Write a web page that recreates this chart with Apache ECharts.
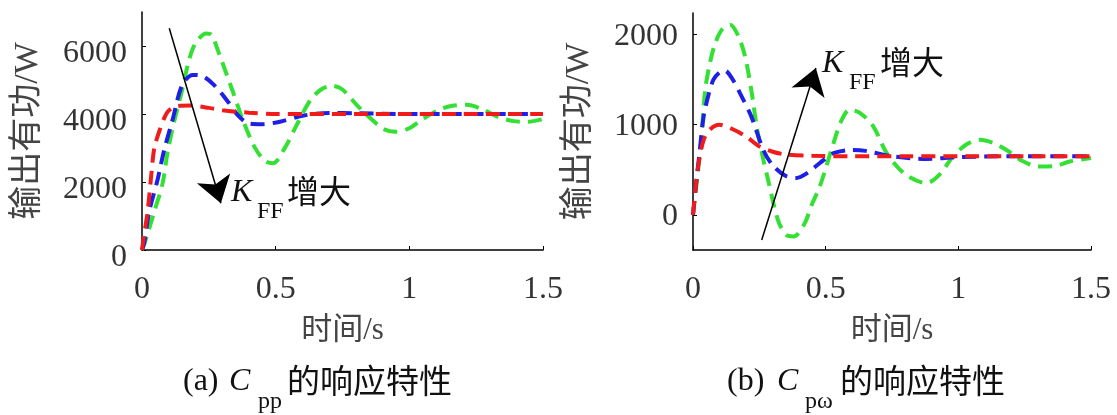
<!DOCTYPE html>
<html><head><meta charset="utf-8">
<script src="https://cdn.jsdelivr.net/npm/echarts@6/dist/echarts.min.js"></script>
<style>html,body{margin:0;padding:0;background:#fff}#c{width:1117px;height:415px}</style>
</head><body><div id="c"></div>
<script>
// ---- tick labels ----
const xTicks = [0, 0.5, 1, 1.5];
const aYTicks = [0, 2000, 4000, 6000];
const bYTicks = [0, 1000, 2000];

// ---- (a) C_pp response: time (s) and output active power (W) ----
const aRedT = [0,0.005,0.021,0.034,0.046,0.065,0.083,0.1,0.13,0.18,0.25,0.3,0.4,0.5,0.6,0.8,1.0,1.2,1.5];
const aRedP = [0,300,1130,2150,3000,3500,3880,4100,4230,4250,4180,4110,4040,4000,4000,4000,4000,4000,4000];
const aBlueT = [0,0.008,0.027,0.058,0.083,0.114,0.15,0.19,0.225,0.27,0.318,0.36,0.4,0.45,0.52,0.6,0.7,0.8,1.0,1.2,1.5];
const aBlueP = [0,200,1130,2060,2940,3820,4850,5150,5120,4850,4400,3950,3720,3700,3780,3950,4030,4020,4000,4000,4000];
const aGreenT = [0,0.01,0.046,0.077,0.096,0.12,0.15,0.176,0.2,0.24,0.26,0.288,0.338,0.375,0.42,0.46,0.49,0.537,0.575,0.63,0.67,0.71,0.75,0.81,0.9,0.95,1.0,1.05,1.11,1.16,1.215,1.27,1.33,1.39,1.445,1.5];
const aGreenP = [0,200,1130,1960,2890,3770,4700,5590,6080,6370,6330,5780,4700,3870,3040,2620,2550,3040,3620,4410,4720,4830,4720,4210,3580,3480,3580,3850,4120,4240,4270,4150,3920,3790,3770,3850];

// ---- (b) C_pω response ----
const bRedT = [0,0.008,0.02,0.04,0.065,0.1,0.15,0.2,0.25,0.3,0.35,0.45,0.6,0.8,1.0,1.5];
const bRedP = [0,250,550,830,950,1000,950,870,760,700,670,655,650,650,650,650];
const bBlueT = [0,0.01,0.025,0.04,0.06,0.077,0.1,0.12,0.15,0.177,0.22,0.265,0.3,0.35,0.39,0.43,0.48,0.53,0.6,0.65,0.75,0.88,1.0,1.2,1.5];
const bBlueP = [0,300,700,1090,1350,1500,1580,1600,1500,1350,1090,720,550,430,410,463,580,685,720,710,650,620,640,650,650];
const bGreenT = [0,0.01,0.03,0.046,0.065,0.084,0.11,0.14,0.17,0.196,0.22,0.24,0.26,0.28,0.32,0.35,0.38,0.42,0.45,0.478,0.53,0.56,0.59,0.63,0.68,0.73,0.8,0.88,0.93,0.98,1.03,1.08,1.13,1.18,1.24,1.3,1.36,1.42,1.5];
const bGreenP = [0,250,800,1390,1700,1907,2060,2110,1990,1760,1380,980,680,425,-55,-220,-240,-100,130,315,800,1050,1167,1130,980,685,450,352,450,648,780,833,800,722,600,537,540,592,630];

// ---- annotation arrows (data coords: start, tip) ----
const aArrow = [[0.102, 6520], [0.295, 1373]];
const bArrow = [[0.259, -278], [0.463, 1630]];

const RED = '#f01c1c', BLUE = '#1f1fe6', GREEN = '#33e033';
const serif = '"Liberation Serif","Times New Roman",serif';
const cjk = '"Liberation Serif","Noto Sans CJK SC",sans-serif';

function pairs(t, v) { return t.map((x, i) => [x, v[i]]); }

function lineSeries(t, v, color, gi) {
  return {
    type: 'line', xAxisIndex: gi, yAxisIndex: gi, data: pairs(t, v),
    showSymbol: false, smooth: 0.3, silent: true,
    lineStyle: { color: color, width: 4, type: [14, 8] }, z: 3
  };
}
function arrowSeries(arr, gi) {
  return {
    type: 'line', xAxisIndex: gi, yAxisIndex: gi, data: [], silent: true,
    markLine: {
      silent: true, animation: false, symbol: ['none', 'arrow'], symbolSize: 26,
      label: { show: false },
      lineStyle: { color: '#000', width: 1.5, type: 'solid' },
      itemStyle: { color: '#000' },
      emphasis: { disabled: true },
      data: [[{ coord: arr[0] }, { coord: arr[1] }]]
    }, z: 5
  };
}
function xAx(gi) {
  return {
    type: 'value', gridIndex: gi, min: 0, max: 1.5, interval: 0.5,
    name: '时间/s', nameLocation: 'middle', nameGap: 65,
    nameTextStyle: { fontFamily: cjk, fontSize: 31, color: '#444' },
    axisLine: { onZero: false, lineStyle: { color: '#000', width: 1.5 } },
    axisTick: { inside: true, length: 4, lineStyle: { color: '#000' } },
    axisLabel: { fontFamily: serif, fontSize: 32, color: '#333', margin: 24,
      customValues: xTicks, formatter: v => String(v) },
    splitLine: { show: false }
  };
}
function yAx(gi, min, max, ticks, lh) {
  return {
    type: 'value', gridIndex: gi, min: min, max: max,
    name: '输出有功/W', nameLocation: 'middle', nameGap: 97,
    nameTextStyle: { fontFamily: cjk, fontSize: 34, color: '#444' },
    axisLine: { show: true, onZero: false, lineStyle: { color: '#000', width: 1.5 } },
    axisTick: { show: true, inside: true, length: 4, customValues: ticks, lineStyle: { color: '#000' } },
    axisLabel: { fontFamily: serif, fontSize: 32, color: '#333', margin: 15,
      customValues: ticks, formatter: v => String(v),
      verticalAlign: 'top', lineHeight: lh },
    splitLine: { show: false }
  };
}
function txt(x, y, s, font, color) {
  return { type: 'text', x: x, y: y, silent: true,
    style: { text: s, font: font, fill: color || '#111', align: 'left', verticalAlign: 'middle' } };
}

const chart = echarts.init(document.getElementById('c'), null, { renderer: 'canvas' });
chart.setOption({
  animation: false,
  backgroundColor: '#fff',
  grid: [
    { left: 142, top: 12, width: 401, height: 238 },
    { left: 693, top: 13, width: 398, height: 237 }
  ],
  xAxis: [xAx(0), xAx(1)],
  yAxis: [yAx(0, 0, 7000, aYTicks, 15), yAx(1, -390, 2240, bYTicks, 4)],
  series: [
    lineSeries(aGreenT, aGreenP, GREEN, 0),
    lineSeries(aBlueT, aBlueP, BLUE, 0),
    lineSeries(aRedT, aRedP, RED, 0),
    lineSeries(bGreenT, bGreenP, GREEN, 1),
    lineSeries(bBlueT, bBlueP, BLUE, 1),
    lineSeries(bRedT, bRedP, RED, 1),
    arrowSeries(aArrow, 0),
    arrowSeries(bArrow, 1)
  ],
  graphic: [
    txt(231, 193, 'K', 'italic 32px ' + serif),
    txt(257, 212, 'FF', '24px ' + serif),
    txt(287, 191, '增大', '32px "Noto Sans CJK SC"'),
    txt(822, 64, 'K', 'italic 32px ' + serif),
    txt(849, 83, 'FF', '24px ' + serif),
    txt(880, 62, '增大', '32px "Noto Sans CJK SC"'),
    txt(183, 382, '(a)', '32px ' + serif),
    txt(229, 382, 'C', 'italic 32px ' + serif),
    txt(258, 402, 'pp', '24px ' + serif),
    txt(287, 380, '的响应特性', '33px "Noto Sans CJK SC"'),
    txt(727, 382, '(b)', '32px ' + serif),
    txt(777, 382, 'C', 'italic 32px ' + serif),
    txt(805, 402, 'pω', '24px ' + serif),
    txt(840, 380, '的响应特性', '33px "Noto Sans CJK SC"')
  ]
});
</script></body></html>
